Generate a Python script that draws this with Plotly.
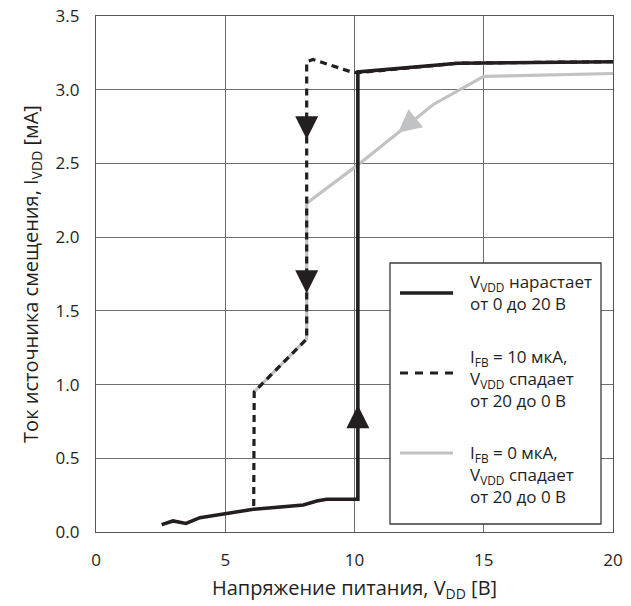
import plotly.graph_objects as go

# Supply current I_VDD [mA] versus supply voltage V_DD [V]

# V_VDD rising from 0 to 20 V
rise_v = [2.54, 2.98, 3.48, 4.02, 6.09, 8.02, 8.54, 8.92, 10.13, 10.13, 14.0, 20.0]
rise_i = [0.05, 0.075, 0.058, 0.097, 0.154, 0.183, 0.21, 0.222, 0.222, 3.12, 3.18, 3.19]

# I_FB = 10 uA, V_VDD falling from 20 to 0 V
fall10_v = [20.0, 14.0, 10.13, 9.89, 8.4, 8.15, 8.15, 6.12, 6.1]
fall10_i = [3.19, 3.18, 3.115, 3.12, 3.205, 3.19, 1.31, 0.95, 0.155]

# I_FB = 0 uA, V_VDD falling from 20 to 0 V
fall0_v = [20.0, 15.0, 13.05, 10.13, 8.15, 8.15, 6.12]
fall0_i = [3.11, 3.09, 2.90, 2.49, 2.23, 1.31, 0.95]

# Direction arrows (tip positions)
arrow_down_v = [8.15, 8.15]
arrow_down_i = [2.664, 1.62]
arrow_up_v = [10.13]
arrow_up_i = [0.86]
arrow_gray_v = [11.68]
arrow_gray_i = [2.708]

legend_labels = [
    "V<sub>VDD</sub> нарастает<br>от 0 до 20 В",
    "I<sub>FB</sub> = 10 мкА,<br>V<sub>VDD</sub> спадает<br>от 20 до 0 В",
    "I<sub>FB</sub> = 0 мкА,<br>V<sub>VDD</sub> спадает<br>от 20 до 0 В",
]

BLACK = "#231f20"
GRAY = "#c1c2c4"
FONT = "Open Sans"

fig = go.Figure()

fig.add_trace(go.Scatter(x=fall0_v, y=fall0_i, mode="lines",
                         line=dict(color=GRAY, width=3.2), name=legend_labels[2]))
fig.add_trace(go.Scatter(x=fall10_v, y=fall10_i, mode="lines",
                         line=dict(color=BLACK, width=3.2, dash="7px,5px"),
                         name=legend_labels[1]))
fig.add_trace(go.Scatter(x=rise_v, y=rise_i, mode="lines",
                         line=dict(color=BLACK, width=3.6), name=legend_labels[0]))

fig.add_trace(go.Scatter(x=arrow_down_v, y=arrow_down_i, mode="markers",
                         marker=dict(symbol="arrow-down", size=23, color=BLACK,
                                     line=dict(width=0))))
fig.add_trace(go.Scatter(x=arrow_up_v, y=arrow_up_i, mode="markers",
                         marker=dict(symbol="arrow-up", size=23, color=BLACK,
                                     line=dict(width=0))))
fig.add_trace(go.Scatter(x=arrow_gray_v, y=arrow_gray_i, mode="markers",
                         marker=dict(symbol="arrow-up", size=23, color=GRAY, angle=231,
                                     line=dict(width=0))))

# Plot-area geometry in pixels, used to lay out the boxed key
L, R, T, B = 96, 613, 16, 532


def px(x):
    return (x - L) / (R - L)


def py(y):
    return (B - y) / (B - T)


shapes = [dict(type="rect", xref="paper", yref="paper",
               x0=px(390), x1=px(601), y0=py(524), y1=py(263),
               line=dict(color="#3a3a3a", width=1.3), fillcolor="white", layer="above")]
styles = [dict(color=BLACK, width=3.6), dict(color=BLACK, width=3.2, dash="8px,7px"),
          dict(color=GRAY, width=3.2)]
sample_y = [293, 373, 453]
text_y = [292, 378, 474]
annotations = []
for lab, st, sy, ty in zip(legend_labels, styles, sample_y, text_y):
    shapes.append(dict(type="line", xref="paper", yref="paper",
                       x0=px(400), x1=px(453), y0=py(sy), y1=py(sy),
                       line=st, layer="above"))
    annotations.append(dict(xref="paper", yref="paper", x=px(468), y=py(ty),
                            xanchor="left", yanchor="middle", align="left",
                            showarrow=False, text=lab,
                            font=dict(family=FONT, size=17, color=BLACK)))

fig.update_layout(
    width=631, height=606,
    margin=dict(l=96, r=18, t=16, b=74, autoexpand=False),
    paper_bgcolor="white", plot_bgcolor="white",
    showlegend=False,
    font=dict(family=FONT, size=17, color=BLACK),
    shapes=shapes, annotations=annotations,
)
fig.update_xaxes(range=[0, 20], dtick=5, tick0=0, showgrid=True, gridcolor="#6e6e6e",
                 gridwidth=1, showline=True, linecolor="#555555", linewidth=1.2,
                 mirror=True, ticks="", zeroline=False, ticklabelstandoff=12,
                 title=dict(text="Напряжение питания, V<sub>DD</sub> [В]",
                            font=dict(family=FONT, size=20), standoff=11))
fig.update_yaxes(range=[0, 3.5], dtick=0.5, tick0=0, tickformat=".1f", showgrid=True,
                 gridcolor="#6e6e6e", gridwidth=1, showline=True, linecolor="#555555",
                 linewidth=1.2, mirror=True, ticks="", zeroline=False,
                 ticklabelstandoff=12,
                 title=dict(text="Ток источника смещения, I<sub>VDD</sub> [мА]",
                            font=dict(family=FONT, size=20), standoff=11))

fig.write_html("out.html")
